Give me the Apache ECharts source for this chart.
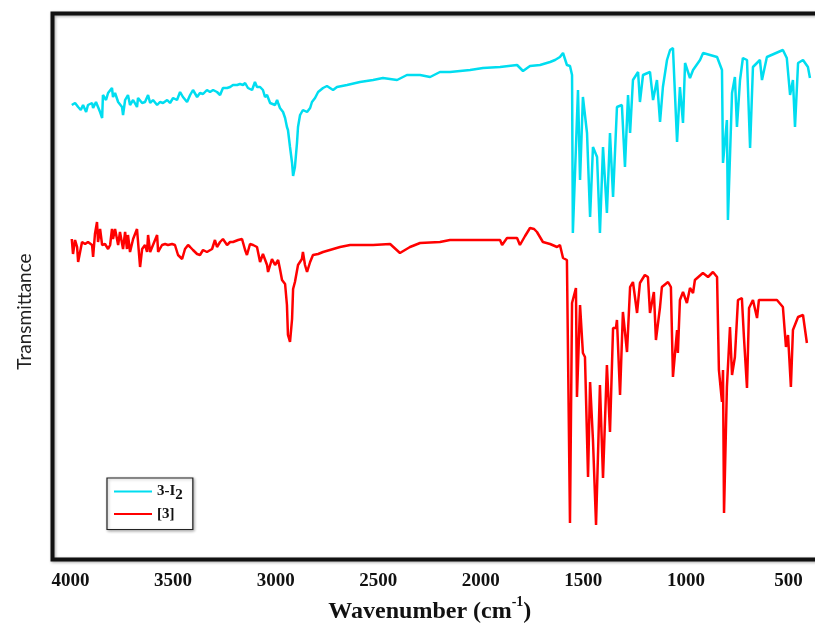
<!DOCTYPE html>
<html>
<head>
<meta charset="utf-8">
<script src="https://cdn.jsdelivr.net/npm/echarts@6/dist/echarts.min.js"></script>
<style>
  html, body { margin: 0; padding: 0; background: #fff; }
  #chart { width: 815px; height: 624px; }
</style>
</head>
<body>
<div id="chart"></div>
<script>
// FT-IR spectra: wavenumber (cm-1) and transmittance (arbitrary units)
const seriesNames = ['3-I₂', '[3]'];
const tickValues = [4000, 3500, 3000, 2500, 2000, 1500, 1000, 500];

const cyanWavenumber = [
  3994,3978,3963,3950,3939,3924,3915,3895,3890,3876,
  3866,3856,3846,3842,3827,3817,3798,3793,3783,3768,
  3749,3744,3734,3720,3710,3695,3676,3671,3651,3637,
  3622,3612,3598,3578,3564,3549,3529,3515,3500,3481,
  3466,3452,3432,3417,3403,3383,3369,3354,3335,3320,
  3305,3286,3271,3257,3237,3222,3208,3188,3174,3159,
  3149,3135,3115,3101,3091,3076,3062,3052,3042,3027,
  3018,3003,2993,2988,2979,2964,2954,2945,2940,2930,
  2920,2915,2906,2896,2891,2881,2867,2847,2832,2823,
  2808,2793,2769,2750,2720,2701,2652,2589,2525,2477,
  2408,2360,2296,2247,2199,2150,2052,1989,1906,1823,
  1794,1760,1711,1662,1638,1614,1599,1580,1565,1555,
  1551,1526,1516,1502,1482,1467,1453,1433,1419,1404,
  1385,1370,1355,1336,1312,1297,1282,1272,1258,1233,
  1224,1209,1175,1160,1141,1126,1112,1092,1077,1063,
  1043,1029,1014,1004,980,965,931,916,848,824,
  819,800,795,775,761,751,736,722,702,687,
  673,639,629,605,527,508,492,478,468,453,
  429,405,395
];
const cyanTransmittance = [
  91.4,91.8,91.0,90.4,91.4,90.0,91.4,91.8,90.8,92.0,
  91.0,90.0,88.8,93.4,92.4,93.8,94.8,93.0,93.8,92.0,
  91.0,89.4,92.4,93.4,91.4,92.4,91.0,92.8,91.8,92.0,
  93.4,91.8,92.4,91.4,92.0,91.8,92.4,91.8,92.8,92.4,
  94.0,93.0,92.0,93.4,94.4,93.0,93.8,93.6,94.4,94.0,
  94.4,94.0,93.4,94.8,94.8,95.0,95.4,95.4,95.6,95.4,
  95.8,94.8,94.4,96.0,95.0,95.0,94.4,93.0,93.4,91.8,
  92.0,91.4,92.4,91.8,90.8,90.0,88.8,87.0,86.4,83.0,
  79.8,77.2,79.0,83.8,87.0,89.4,90.4,90.0,90.8,92.0,
  92.8,94.0,94.8,95.2,94.4,95.0,95.4,96.0,96.4,96.8,
  96.4,97.4,97.4,97.0,98.0,98.0,98.4,98.8,99.0,99.4,
  98.2,99.2,99.4,100.0,100.4,101.0,101.8,99.4,99.2,97.4,
  65.8,94.4,76.4,93.0,85.8,69.0,83.0,81.0,65.8,83.0,
  69.8,85.8,73.0,91.0,91.4,79.0,93.4,85.8,96.4,98.0,
  92.0,97.4,98.0,92.4,96.4,88.0,95.0,100.4,102.4,102.8,
  84.0,95.0,87.8,99.8,96.8,98.4,100.4,101.8,101.0,98.4,
  79.8,88.4,68.4,93.8,97.0,87.0,96.4,100.8,100.4,82.8,
  99.0,100.4,96.4,101.0,102.4,100.8,93.4,96.4,87.0,99.8,
  100.4,99.0,96.8
];

const redWavenumber = [
  3994,3988,3978,3968,3963,3954,3944,3929,3915,3895,
  3890,3881,3871,3866,3856,3846,3832,3817,3807,3798,
  3793,3783,3768,3759,3744,3734,3725,3720,3710,3695,
  3676,3661,3651,3637,3627,3622,3612,3598,3578,3573,
  3554,3539,3525,3505,3491,3476,3456,3442,3427,3417,
  3403,3383,3369,3354,3335,3310,3296,3286,3271,3257,
  3237,3222,3208,3183,3164,3149,3140,3125,3110,3091,
  3076,3062,3042,3037,3018,3003,2988,2979,2969,2954,
  2945,2940,2930,2920,2915,2906,2891,2872,2867,2857,
  2847,2832,2818,2793,2769,2686,2637,2525,2442,2394,
  2345,2296,2199,2150,2052,1955,1906,1896,1872,1823,
  1809,1784,1760,1740,1726,1697,1662,1628,1614,1599,
  1580,1565,1555,1536,1531,1516,1502,1492,1477,1467,
  1453,1438,1419,1404,1385,1370,1355,1341,1336,1321,
  1307,1287,1272,1258,1238,1224,1200,1185,1175,1156,
  1146,1126,1117,1087,1073,1063,1043,1039,1029,1014,
  995,980,965,956,917,892,868,848,839,824,
  819,814,800,785,775,761,746,727,717,702,
  692,673,653,644,605,556,527,512,502,488,
  478,453,429,410
];
const redTransmittance = [
  64.6,61.6,64.4,63.0,60.0,59.6,64.0,63.6,64.0,63.4,
  61.0,65.6,68.0,64.0,66.6,63.4,63.6,62.6,63.4,66.6,
  64.6,66.6,63.4,66.0,62.6,66.0,62.6,65.4,62.0,64.6,
  66.6,59.0,62.6,63.4,62.0,65.4,62.0,63.4,65.4,62.0,
  63.4,63.6,63.4,63.6,63.4,61.4,60.6,62.6,63.4,63.0,
  62.4,61.6,61.4,62.4,62.0,62.6,64.4,63.0,64.0,64.6,
  63.4,64.0,64.0,64.4,64.6,62.4,61.4,63.6,63.4,63.0,
  60.0,61.6,59.4,58.0,60.6,59.4,60.4,58.6,56.4,55.6,
  51.4,45.4,44.0,48.6,54.6,56.0,59.4,60.6,62.0,59.4,
  58.0,60.0,61.4,61.6,62.0,63.0,63.4,63.4,63.6,61.8,
  63.0,63.8,64.0,64.4,64.4,64.4,64.4,63.4,64.8,64.8,
  63.4,65.2,66.8,66.6,66.0,64.0,63.6,63.0,63.4,60.8,
  60.4,7.8,51.8,54.8,33.0,51.4,41.8,41.0,17.0,36.0,
  24.4,7.4,35.4,16.8,39.4,26.0,46.8,46.8,48.4,33.4,
  50.0,42.0,55.0,56.0,49.8,55.8,57.4,57.0,49.8,54.0,
  44.4,51.0,55.0,56.0,55.0,37.0,46.4,41.8,52.4,54.0,
  51.8,54.8,53.8,56.4,57.8,57.0,58.0,57.0,38.4,32.0,
  38.4,9.8,35.0,47.0,37.4,41.0,52.4,52.8,45.0,34.8,
  50.8,52.4,48.8,52.4,52.4,52.4,51.0,43.0,45.4,35.0,
  46.4,49.0,49.4,43.8
];

const pair = (xs, ys) => xs.map((x, i) => [x, ys[i]]);

const chart = echarts.init(document.getElementById('chart'), null, { renderer: 'canvas' });

const serifBold = { fontFamily: '"Liberation Serif", "Times New Roman", serif', fontWeight: 'bold', color: '#111' };

chart.setOption({
  animation: false,
  backgroundColor: '#ffffff',
  grid: {
    left: 52.5, right: -4.2, top: 13.5, bottom: 64.5,
    outerBoundsMode: 'none',
    show: true,
    borderColor: '#111',
    borderWidth: 4,
    backgroundColor: 'rgba(255,255,255,0)',
    shadowColor: 'rgba(0,0,0,0.35)',
    shadowBlur: 3,
    shadowOffsetX: 1,
    shadowOffsetY: 1
  },
  legend: {
    data: seriesNames,
    left: 107, top: 478,
    orient: 'vertical',
    icon: 'rect',
    itemWidth: 38, itemHeight: 2.2, itemGap: 4,
    padding: [6, 10, 8, 7],
    borderColor: '#222', borderWidth: 1.2,
    backgroundColor: '#fff',
    shadowColor: 'rgba(0,0,0,0.3)', shadowBlur: 3, shadowOffsetX: 1, shadowOffsetY: 1,
    formatter: name => name === '3-I₂' ? '{n|3-I}{s|2}' : '{n|' + name + '}',
    textStyle: {
      rich: {
        n: Object.assign({ fontSize: 15, lineHeight: 22, verticalAlign: 'middle' }, serifBold),
        s: Object.assign({ fontSize: 15, lineHeight: 22, verticalAlign: 'bottom' }, serifBold)
      }
    }
  },
  xAxis: {
    type: 'value',
    min: 350, max: 4088,
    inverse: true,
    splitLine: { show: false },
    axisLine: { show: false },
    axisTick: { show: false },
    axisLabel: Object.assign({
      customValues: tickValues,
      formatter: v => String(v),
      fontSize: 19,
      margin: 12
    }, serifBold),
    name: '{t|Wavenumber (cm}{sup|-1}{t|)}',
    nameLocation: 'middle',
    nameGap: 30,
    nameTextStyle: {
      padding: [0, 12, 0, 0],
      rich: {
        t: Object.assign({ fontSize: 24, lineHeight: 28, verticalAlign: 'bottom' }, serifBold),
        sup: Object.assign({ fontSize: 14, lineHeight: 28, verticalAlign: 'top' }, serifBold)
      }
    }
  },
  yAxis: {
    type: 'value',
    min: 0.5, max: 109.7,
    splitLine: { show: false },
    axisLine: { show: false },
    axisTick: { show: false },
    axisLabel: { show: false },
    name: 'Transmittance',
    nameLocation: 'middle',
    nameGap: 18,
    nameTextStyle: {
      fontFamily: 'Lato, "Liberation Sans", sans-serif',
      fontSize: 19,
      color: '#222',
      padding: [0, 50, 0, 0]
    }
  },
  series: [
    {
      name: seriesNames[0],
      type: 'line',
      data: pair(cyanWavenumber, cyanTransmittance),
      symbol: 'none',
      color: '#00DDF0',
      lineStyle: { width: 2.5, color: '#00DDF0' }
    },
    {
      name: seriesNames[1],
      type: 'line',
      data: pair(redWavenumber, redTransmittance),
      symbol: 'none',
      color: '#FF0000',
      lineStyle: { width: 2.5, color: '#FF0000' }
    }
  ]
});
</script>
</body>
</html>
